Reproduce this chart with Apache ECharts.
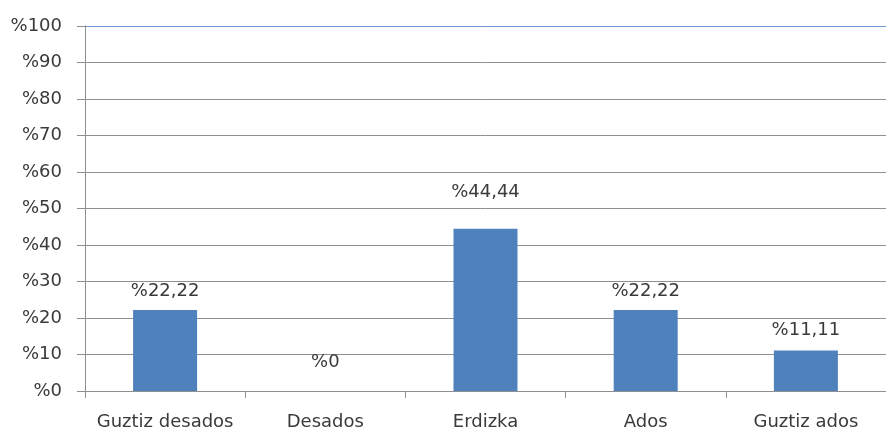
<!DOCTYPE html>
<html>
<head>
<meta charset="utf-8">
<script src="https://cdn.jsdelivr.net/npm/echarts@6/dist/echarts.min.js"></script>
<style>html,body{margin:0;padding:0;background:#fff}#c{width:886px;height:431px}</style>
</head>
<body>
<div id="c"></div>
<script>
const categories = ['Guztiz desados', 'Desados', 'Erdizka', 'Ados', 'Guztiz ados'];
const values = [22.22, 0, 44.44, 22.22, 11.11];
const valueLabels = ['%22,22', '%0', '%44,44', '%22,22', '%11,11'];
const yMin = 0, yMax = 100, yInterval = 10;

const labelDistances = [10, 20, 27, 10, 11];
const FONT = 'DejaVu Sans';
const gridColors = [];
for (let i = 0; i <= (yMax - yMin) / yInterval; i++) gridColors.push(i === (yMax - yMin) / yInterval ? '#6E97CE' : '#8f8f8f');

const chart = echarts.init(document.getElementById('c'), null, {renderer: 'canvas'});
chart.setOption({
  animation: false,
  grid: {left: 85, right: -12, top: 26, bottom: 40, containLabel: false},
  xAxis: {
    type: 'category',
    data: categories,
    axisLine: {lineStyle: {color: '#8f8f8f', width: 1}},
    axisTick: {show: true, interval: 0, length: 7, alignWithLabel: false, lineStyle: {color: '#8f8f8f'}},
    axisLabel: {interval: 0, margin: 22, color: '#3a3a3a', fontFamily: FONT, fontSize: 18}
  },
  yAxis: {
    type: 'value',
    min: yMin, max: yMax, interval: yInterval,
    axisLine: {show: true, lineStyle: {color: '#8f8f8f', width: 1}},
    axisTick: {show: true, length: 8, lineStyle: {color: '#8f8f8f'}},
    axisLabel: {margin: 23, color: '#3a3a3a', fontFamily: FONT, fontSize: 18, formatter: v => '%' + v},
    splitLine: {show: true, lineStyle: {color: gridColors, width: 1}}
  },
  series: [{
    type: 'bar',
    barWidth: 64,
    data: values.map((v, i) => ({
      value: v,
      label: {show: true, position: 'top', distance: labelDistances[i], formatter: valueLabels[i]}
    })),
    itemStyle: {color: '#4F81BD'},
    label: {color: '#3a3a3a', fontFamily: FONT, fontSize: 18}
  }]
});
</script>
</body>
</html>
